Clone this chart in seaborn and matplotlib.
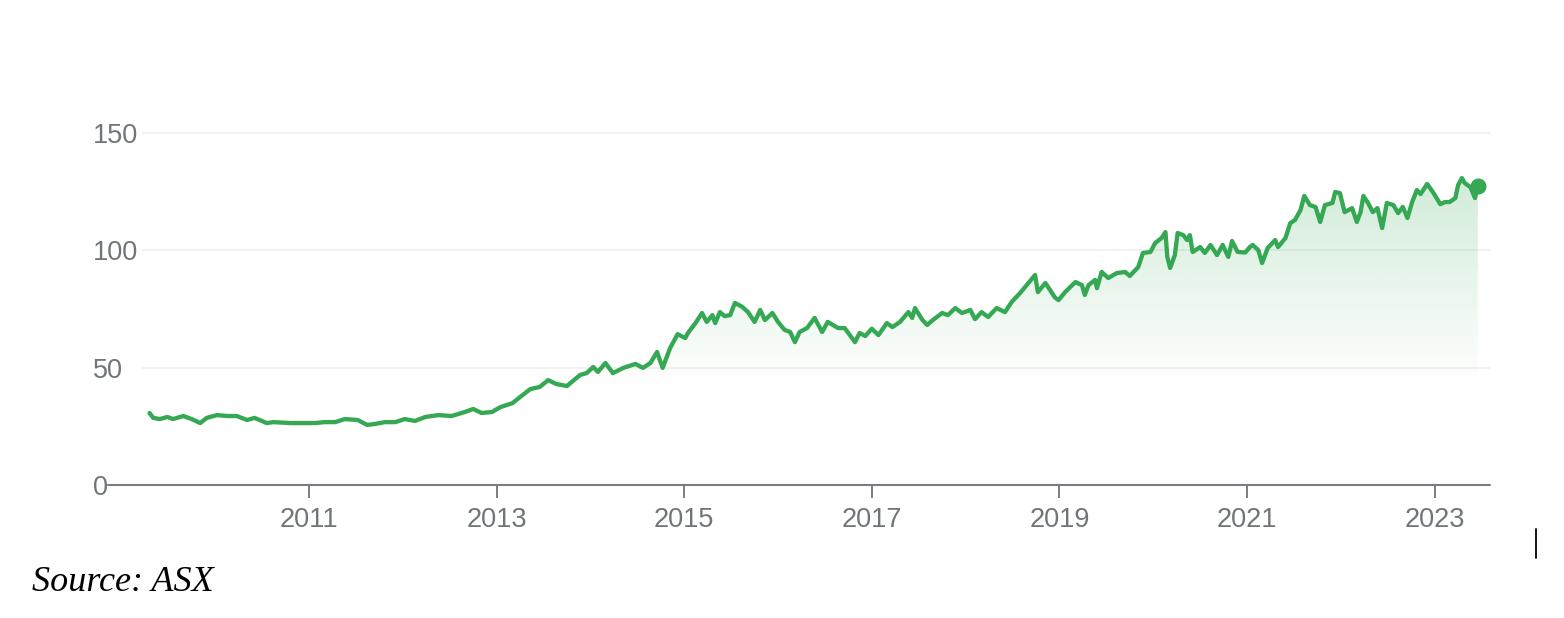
import numpy as np
import pandas as pd
import matplotlib
matplotlib.use('Agg')
import matplotlib.pyplot as plt
from matplotlib.patches import PathPatch
from matplotlib.lines import Line2D
import seaborn as sns

#-----------------------
# Data (decimal years)
#-----------------------
years = [2009.30, 2009.34, 2009.41, 2009.49, 2009.55, 2009.66, 2009.75, 2009.84, 2009.91,
         2010.02, 2010.13, 2010.23, 2010.34, 2010.42, 2010.55, 2010.62, 2010.80, 2010.98,
         2011.06, 2011.17, 2011.28, 2011.38, 2011.52, 2011.62, 2011.70, 2011.81, 2011.92,
         2012.02, 2012.13, 2012.24, 2012.38, 2012.52, 2012.66, 2012.75, 2012.84, 2012.95,
         2013.04, 2013.17, 2013.25, 2013.36, 2013.46, 2013.55, 2013.64, 2013.75, 2013.89, 2013.96,
         2014.03, 2014.08, 2014.16, 2014.24, 2014.35, 2014.48, 2014.56, 2014.64, 2014.71, 2014.77,
         2014.85, 2014.93,
         2015.01, 2015.04, 2015.12, 2015.19, 2015.24, 2015.30, 2015.33, 2015.38, 2015.43, 2015.49,
         2015.54, 2015.62, 2015.68, 2015.75, 2015.81, 2015.86, 2015.94,
         2016.00, 2016.07, 2016.13, 2016.18, 2016.23, 2016.31, 2016.39, 2016.47, 2016.53, 2016.64,
         2016.71, 2016.82, 2016.87, 2016.93,
         2017.00, 2017.07, 2017.16, 2017.22, 2017.30, 2017.39, 2017.43, 2017.46, 2017.54, 2017.59,
         2017.65, 2017.75, 2017.81, 2017.89, 2017.96,
         2018.05, 2018.10, 2018.17, 2018.24, 2018.33, 2018.42, 2018.49, 2018.58, 2018.67, 2018.74,
         2018.77, 2018.85, 2018.90, 2018.95, 2018.99,
         2019.06, 2019.17, 2019.24, 2019.27, 2019.31, 2019.38, 2019.40, 2019.45, 2019.52, 2019.61,
         2019.70, 2019.75, 2019.84, 2019.89, 2019.97,
         2020.02, 2020.09, 2020.13, 2020.15, 2020.18, 2020.23, 2020.26, 2020.32, 2020.36, 2020.39,
         2020.42, 2020.50, 2020.55, 2020.61, 2020.68, 2020.74, 2020.80, 2020.84, 2020.90, 2020.98,
         2021.03, 2021.06, 2021.12, 2021.16, 2021.22, 2021.30, 2021.33, 2021.41, 2021.46, 2021.51,
         2021.57, 2021.61, 2021.67, 2021.73, 2021.78, 2021.83, 2021.91, 2021.94, 2021.99,
         2022.04, 2022.12, 2022.17, 2022.21, 2022.24, 2022.29, 2022.34, 2022.39, 2022.44, 2022.49,
         2022.56, 2022.61, 2022.66, 2022.71, 2022.76, 2022.81, 2022.85, 2022.92, 2022.98,
         2023.06, 2023.11, 2023.16, 2023.22, 2023.25, 2023.29, 2023.32, 2023.38, 2023.43, 2023.46]

prices = [30.7, 28.6, 28.1, 29.0, 28.1, 29.4, 28.1, 26.4, 28.6,
          29.8, 29.4, 29.4, 27.7, 28.6, 26.4, 26.8, 26.4, 26.4,
          26.4, 26.8, 26.8, 28.1, 27.7, 25.6, 26.0, 26.8, 26.8,
          28.1, 27.3, 29.0, 29.8, 29.4, 31.1, 32.4, 30.7, 31.1,
          33.2, 34.9, 37.5, 40.9, 41.8, 44.7, 43.0, 42.2, 46.9, 47.7,
          50.3, 48.2, 52.0, 47.7, 49.9, 51.6, 49.9, 52.0, 56.7, 49.9,
          58.4, 64.3,
          62.6, 64.8, 69.0, 73.3, 69.5, 72.4, 69.0, 73.7, 72.0, 72.4,
          77.6, 75.9, 73.7, 69.5, 74.6, 70.3, 73.3,
          69.5, 66.1, 65.2, 60.9, 65.2, 66.9, 71.2, 65.2, 69.5, 66.9,
          66.9, 60.9, 64.8, 63.5,
          66.6, 63.9, 69.0, 67.3, 69.5, 73.7, 71.2, 75.4, 70.3, 68.2,
          70.3, 73.3, 72.4, 75.4, 73.3,
          74.6, 70.7, 73.7, 71.6, 75.4, 73.7, 78.0, 81.8, 86.1, 89.5,
          82.2, 86.1, 83.1, 80.0, 78.8,
          82.2, 86.5, 85.2, 81.0, 85.2, 87.4, 83.9, 90.8, 88.2, 90.3,
          90.8, 89.1, 92.9, 98.9, 99.3,
          103.1, 105.3, 107.8, 97.2, 92.5, 98.0, 107.4, 106.5, 104.4, 106.5,
          99.3, 101.4, 98.9, 102.3, 98.0, 102.3, 97.2, 104.0, 99.3, 99.1,
          101.4, 102.3, 100.1, 94.6, 101.0, 104.4, 101.4, 105.3, 111.6, 112.9,
          117.2, 123.2, 119.3, 118.5, 112.1, 119.3, 120.2, 124.9, 124.4,
          116.3, 118.0, 112.1, 116.3, 123.2, 120.2, 116.3, 118.0, 109.5, 120.2,
          119.3, 115.9, 118.5, 113.8, 120.6, 125.7, 124.0, 128.3, 124.9,
          119.7, 120.6, 120.6, 122.3, 127.8, 130.8, 128.7, 127.0, 122.3, 127.4]

tick_years = [2011, 2013, 2015, 2017, 2019, 2021, 2023]
y_ticks = [0, 50, 100, 150]
source_text = 'Source: ASX'

df = pd.DataFrame({'year': years, 'price': prices})

# colours
green = '#34a853'
grey_txt = '#70757a'
grey_axis = '#7a7e83'
grid_col = '#f1f1f1'

#-----------------------
# Figure
#-----------------------
sns.set_style('white')
plt.rcParams['font.family'] = ['Liberation Sans', 'DejaVu Sans']

fig = plt.figure(figsize=(15.64, 6.18), dpi=100)
ax = fig.add_axes([0.0908, 0.2152, 0.8619, 0.5885])

x0, x1 = 2009.22, 2023.59
ymax = 155

# gradient fill under the line
fill = ax.fill_between(df['year'], df['price'], 0, color='none', lw=0)
path = fill.get_paths()[0]
patch = PathPatch(path, facecolor='none', edgecolor='none', transform=ax.transData)
ax.add_patch(patch)
vals = np.linspace(0, ymax, 400)
alpha = 0.22 * np.clip((vals - 42) / (130 - 42), 0, 1)
rgb = matplotlib.colors.to_rgb(green)
grad = np.zeros((len(vals), 1, 4))
grad[:, 0, :3] = rgb
grad[:, 0, 3] = alpha
img = ax.imshow(grad, extent=[x0, x1, 0, ymax], origin='lower', aspect='auto',
                interpolation='bilinear', zorder=1)
img.set_clip_path(patch)

# price line
sns.lineplot(data=df, x='year', y='price', ax=ax, color=green, lw=3.1,
             zorder=3, estimator=None)
# last point marker
ax.plot(df['year'].iloc[-1], df['price'].iloc[-1], 'o', color=green, ms=10.5,
        zorder=4, clip_on=False)

# axes styling
ax.set_xlim(x0, x1)
ax.set_ylim(0, ymax)
for s in ax.spines.values():
    s.set_visible(False)
ax.set_xlabel('')
ax.set_ylabel('')

ax.set_yticks(y_ticks)
ax.set_yticklabels([str(v) for v in y_ticks])
ax.set_xticks(tick_years)
ax.set_xticklabels([str(v) for v in tick_years])

# light grid lines at 50/100/150 only
for v in y_ticks[1:]:
    ax.axhline(v, color=grid_col, lw=1.4, zorder=0.5)
ax.grid(False)

ax.tick_params(axis='y', length=0, pad=35.3, labelsize=19.5, labelcolor=grey_txt)
for lab in ax.get_yticklabels():
    lab.set_horizontalalignment('left')
ax.tick_params(axis='x', length=9, width=1.4, color=grey_axis, direction='out',
               pad=7, labelsize=19.5, labelcolor=grey_txt, bottom=True)

# baseline axis line (extends a bit left of the grid)
fig.add_artist(Line2D([108 / 1564, 1490 / 1564], [0.2152, 0.2152], color=grey_axis,
                      lw=1.5, transform=fig.transFigure, zorder=5))

# source note
fig.text(0.0205, 0.0437, source_text, family=['Liberation Serif', 'DejaVu Serif'],
         style='italic', fontsize=26, color='black', ha='left', va='baseline')

# text cursor mark on the right
fig.add_artist(Line2D([0.9821, 0.9821], [0.0971, 0.144], color='black', lw=1.3,
                      transform=fig.transFigure))

fig.savefig('out.png', dpi=100, facecolor='white')
